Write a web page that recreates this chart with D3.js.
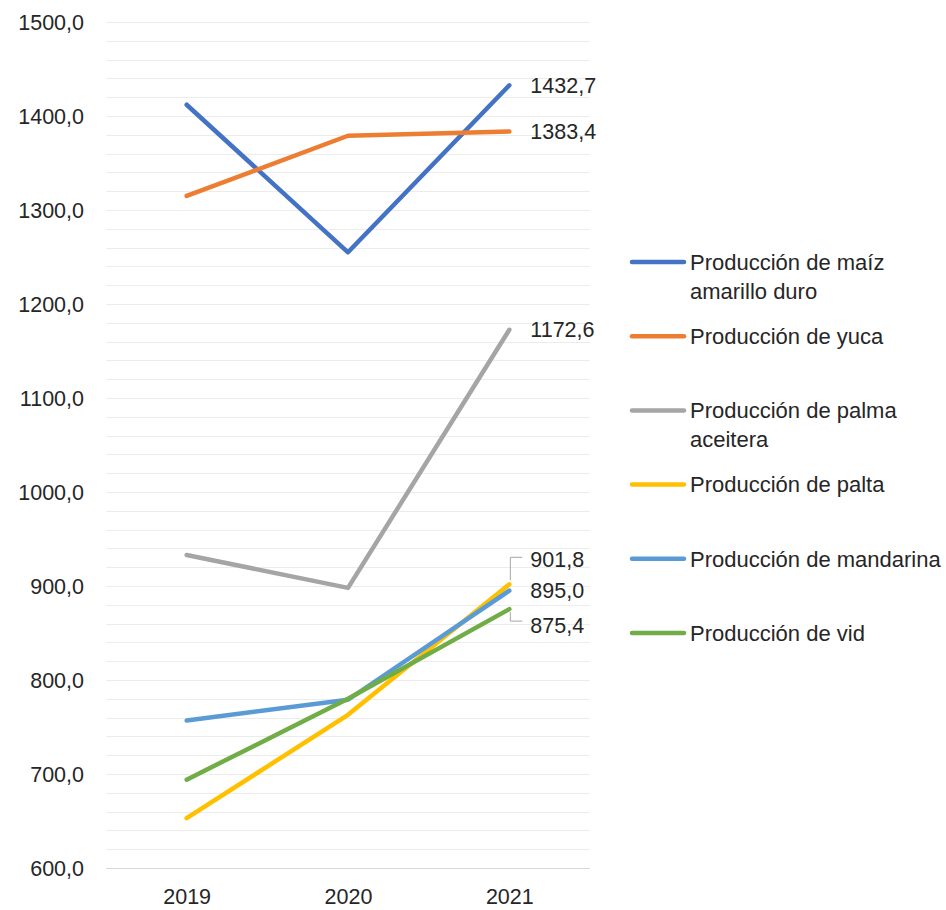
<!DOCTYPE html>
<html>
<head>
<meta charset="utf-8">
<script src="https://cdn.jsdelivr.net/npm/d3@7"></script>
<style>
  html, body { margin: 0; padding: 0; background: #fff; }
  text { font-family: "Liberation Sans", Arial, sans-serif; fill: #262626; }
</style>
</head>
<body>
<div id="chart"></div>
<script>
// Categories and series
const years = ["2019", "2020", "2021"];
const seriesNames = [
  "Producción de maíz amarillo duro",
  "Producción de yuca",
  "Producción de palma aceitera",
  "Producción de palta",
  "Producción de mandarina",
  "Producción de vid"
];
const maiz = [1412.0, 1255.0, 1432.7];
const yuca = [1315.0, 1379.0, 1383.4];
const palma = [933.0, 898.0, 1172.6];
const palta = [653.0, 763.0, 901.8];
const mandarina = [757.0, 779.0, 895.0];
const vid = [694.0, 780.0, 875.4];
const yTicks = [600, 700, 800, 900, 1000, 1100, 1200, 1300, 1400, 1500];

const colors = ["#4472C4", "#ED7D31", "#A5A5A5", "#FFC000", "#5B9BD5", "#70AD47"];
const allValues = [maiz, yuca, palma, palta, mandarina, vid];

const W = 946, H = 910;
const plot = {left: 106, right: 590, top: 22, bottom: 868};

const svg = d3.select("#chart")
  .append("svg")
  .attr("width", W)
  .attr("height", H);

const x = d3.scalePoint()
  .domain(years)
  .range([plot.left, plot.right])
  .padding(0.5);

const y = d3.scaleLinear()
  .domain([600, 1500])
  .range([plot.bottom, plot.top]);

const fmt = v => d3.format(".1f")(v).replace(".", ",");

// Gridlines every 20 units
const gridVals = d3.range(600, 1500.1, 20);
svg.append("g")
  .selectAll("line")
  .data(gridVals)
  .join("line")
  .attr("x1", plot.left)
  .attr("x2", plot.right)
  .attr("y1", d => Math.round(y(d)) + 0.5)
  .attr("y2", d => Math.round(y(d)) + 0.5)
  .attr("stroke", d => d === 600 ? "#d9d9d9" : "#ececec")
  .attr("stroke-width", 1);

// Y axis labels
const yAxis = d3.axisLeft(y)
  .tickValues(yTicks)
  .tickFormat(fmt)
  .tickSize(0)
  .tickPadding(0);
const gy = svg.append("g")
  .attr("transform", "translate(84,0)")
  .call(yAxis);
gy.select(".domain").remove();
gy.selectAll("text")
  .style("font-size", "21.5px")
  .attr("fill", "#262626")
  .attr("dy", "0.35em");

// X axis labels
const xAxis = d3.axisBottom(x).tickSize(0).tickPadding(0);
const gx = svg.append("g")
  .attr("transform", "translate(0,896)")
  .call(xAxis);
gx.select(".domain").remove();
gx.selectAll("text")
  .style("font-size", "21.5px")
  .attr("fill", "#262626")
  .attr("dy", "0.35em");

// Series lines
const line = d3.line()
  .x((d, i) => x(years[i]))
  .y(d => y(d));

svg.append("g")
  .selectAll("path")
  .data(allValues)
  .join("path")
  .attr("d", d => line(d))
  .attr("fill", "none")
  .attr("stroke", (d, i) => colors[i])
  .attr("stroke-width", 4.5)
  .attr("stroke-linecap", "round")
  .attr("stroke-linejoin", "round");

// End labels (last year)
const labelShift = [0, 0, 0, -25, 0, 16];
const lastX = x(years[years.length - 1]);
const labels = svg.append("g");
allValues.forEach((vals, i) => {
  const v = vals[vals.length - 1];
  const py = y(v);
  const ly = py + labelShift[i];
  if (labelShift[i] !== 0) {
    const turnY = ly + (labelShift[i] < 0 ? -2 : -4);
    labels.append("path")
      .attr("d", `M${lastX + 1},${py + (labelShift[i] < 0 ? -4 : 3)} L${lastX + 1},${turnY} L${lastX + 13},${turnY}`)
      .attr("fill", "none")
      .attr("stroke", "#a6a6a6")
      .attr("stroke-width", 1);
  }
  labels.append("text")
    .attr("x", lastX + 21)
    .attr("y", ly)
    .attr("dy", "0.35em")
    .style("font-size", "21.5px")
    .text(fmt(v));
});

// Legend
const legend = svg.append("g");
const legendTop = 262, legendStep = 74.2, maxTextW = 254;
seriesNames.forEach((name, i) => {
  const gy0 = legendTop + i * legendStep;
  legend.append("line")
    .attr("x1", 632).attr("x2", 684)
    .attr("y1", gy0).attr("y2", gy0)
    .attr("stroke", colors[i])
    .attr("stroke-width", 4.5)
    .attr("stroke-linecap", "round");
  const t = legend.append("text")
    .attr("x", 690)
    .attr("y", gy0)
    .style("font-size", "22px");
  // simple word wrap
  const words = name.split(" ");
  let lineWords = [];
  let lineNo = 0;
  let tspan = t.append("tspan").attr("x", 690).attr("y", gy0).attr("dy", "0.35em");
  words.forEach(w => {
    lineWords.push(w);
    tspan.text(lineWords.join(" "));
    if (tspan.node().getComputedTextLength() > maxTextW && lineWords.length > 1) {
      lineWords.pop();
      tspan.text(lineWords.join(" "));
      lineWords = [w];
      lineNo++;
      tspan = t.append("tspan")
        .attr("x", 690)
        .attr("y", gy0 + lineNo * 29)
        .attr("dy", "0.35em")
        .text(w);
    }
  });
});
</script>
</body>
</html>
